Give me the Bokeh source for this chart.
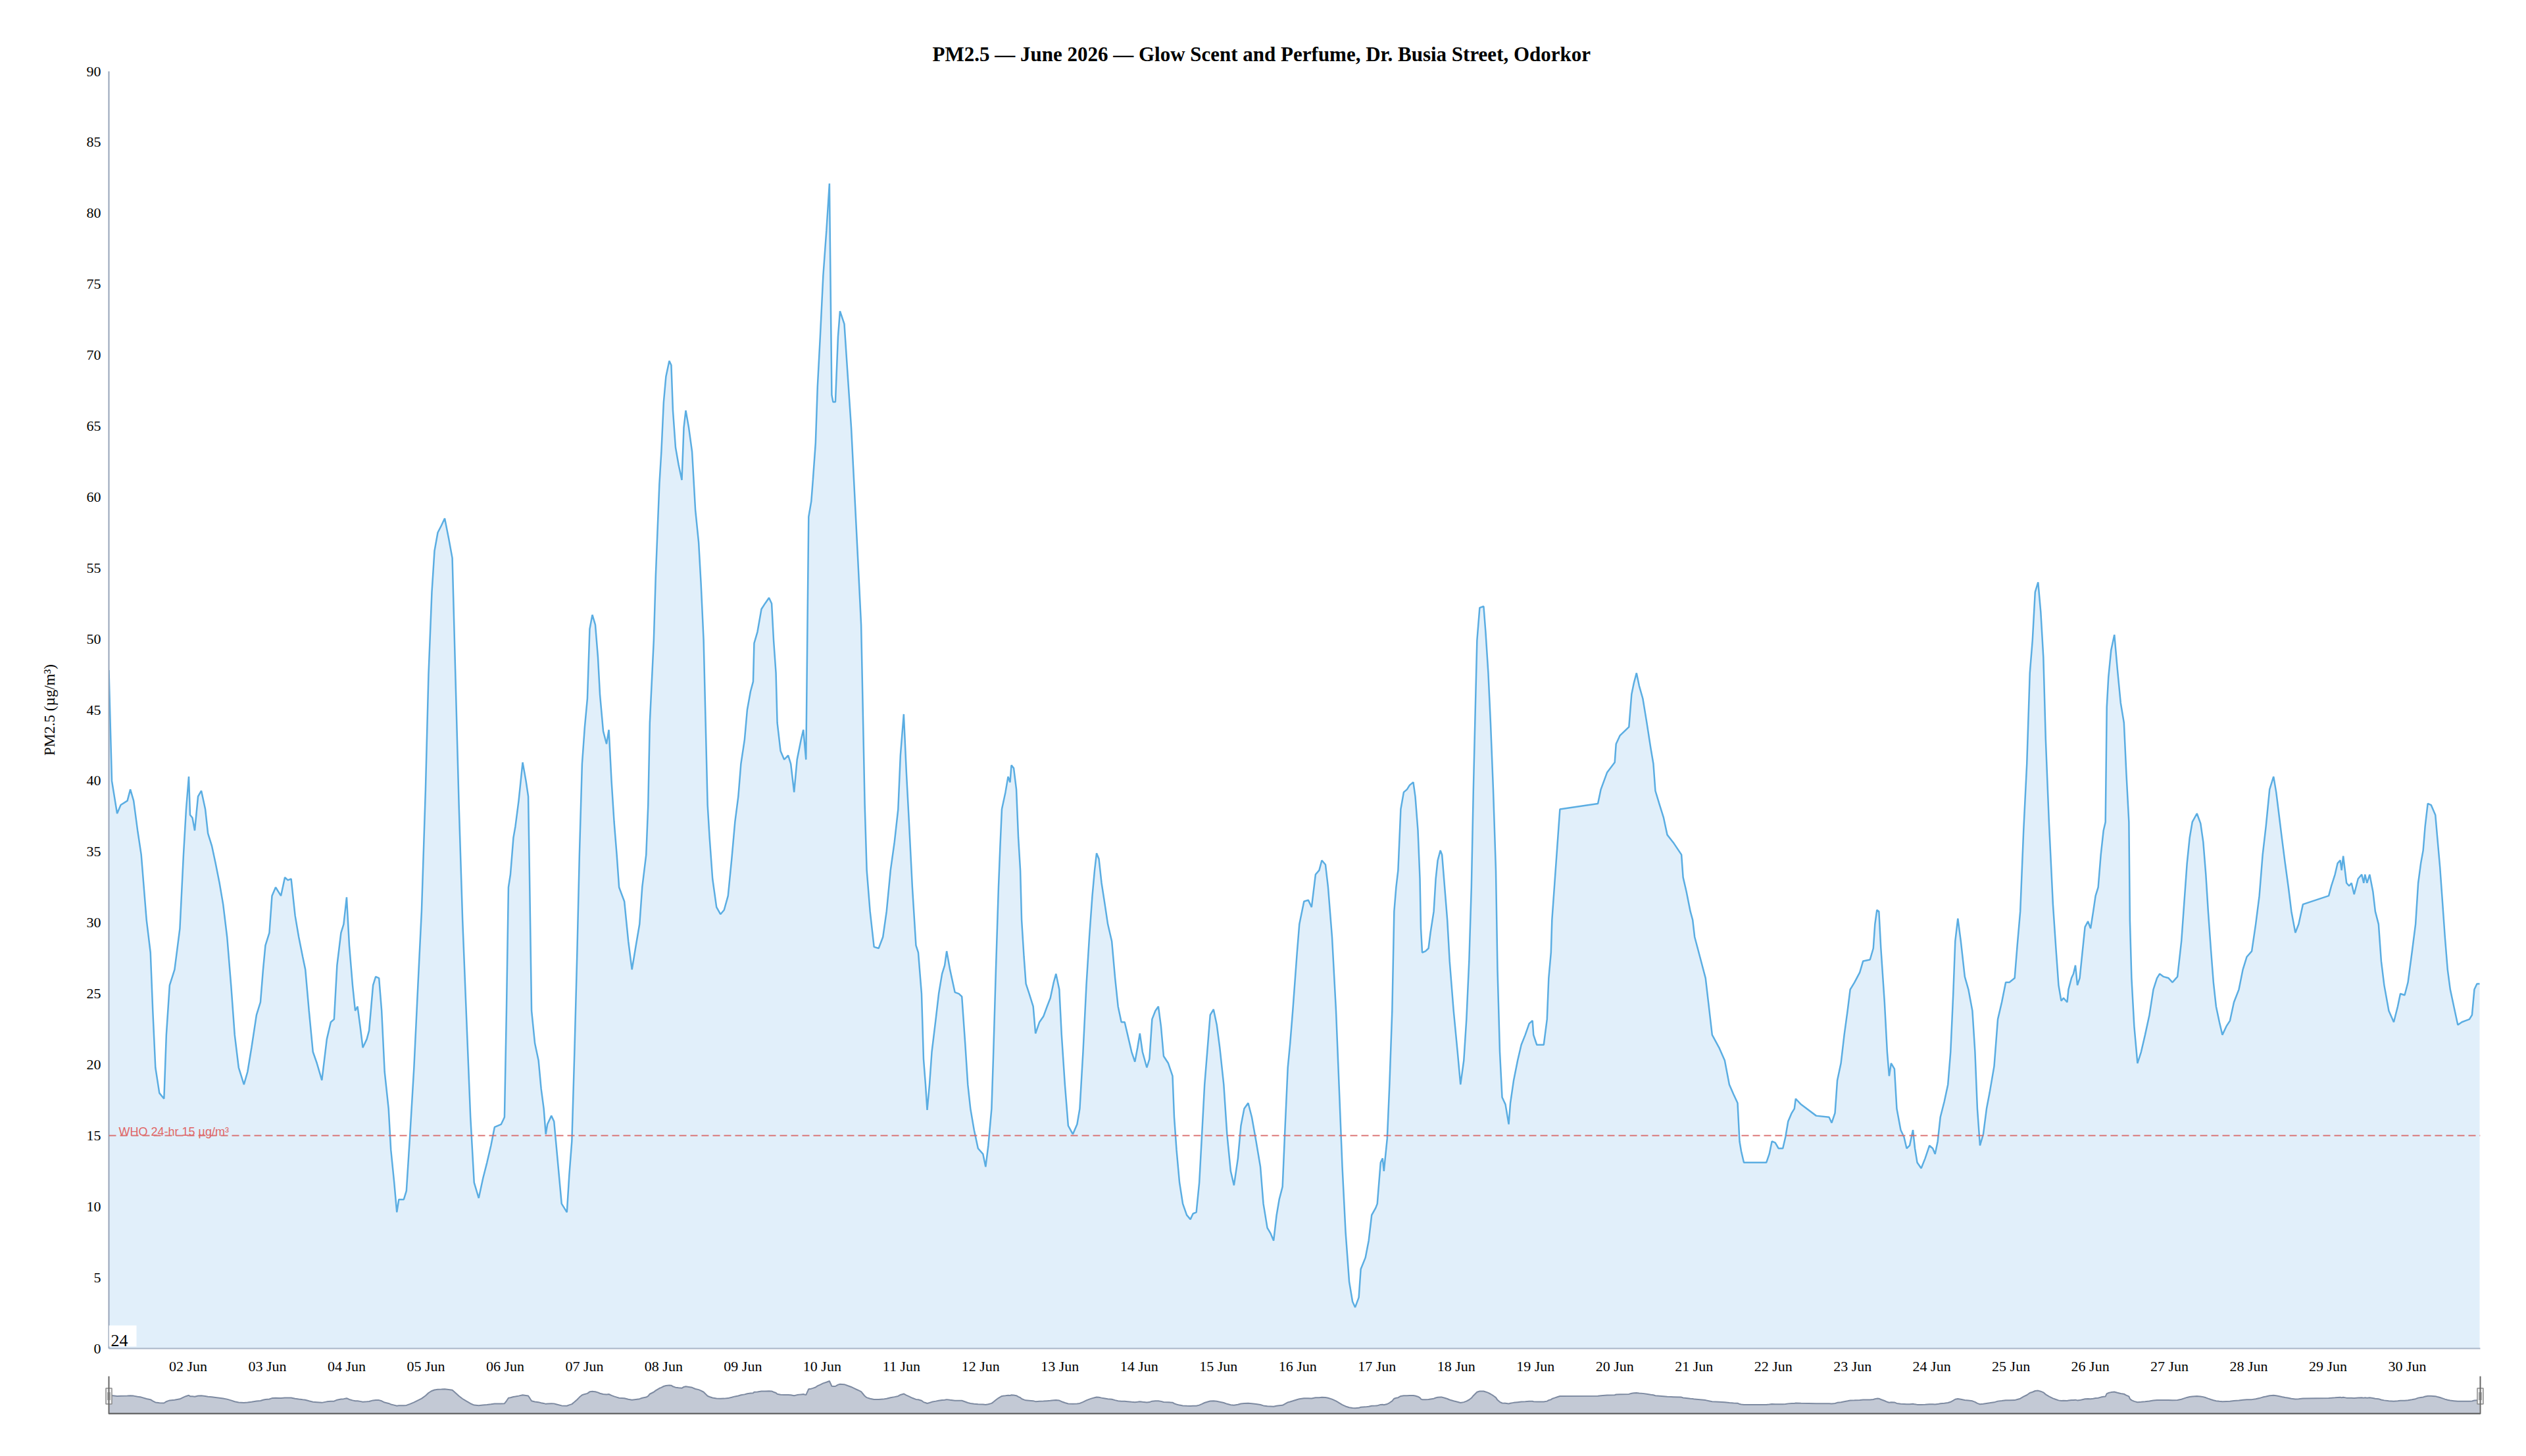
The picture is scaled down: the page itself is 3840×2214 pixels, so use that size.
import pandas as pd
from bokeh.plotting import figure
from bokeh.models import (ColumnDataSource, Range1d, FixedTicker, DatetimeTickFormatter,
                          Span, Label, BoxAnnotation)
from bokeh.embed import file_html
from bokeh.resources import INLINE

TITLE = "PM2.5 \u2014 June 2026 \u2014 Glow Scent and Perfume, Dr. Busia Street, Odorkor"
Y_LABEL = "PM2.5 (\u00b5g/m\u00b3)"
WHO_LIMIT = 15
WHO_TEXT = "WHO 24-hr 15 \u00b5g/m\u00b3"
CORNER_TEXT = "24"
START = "2026-06-01 00:00"
Y_TICKS = list(range(0, 95, 5))
TICK_DAYS = list(range(2, 31))

# (hours since 1 Jun 00:00, PM2.5)
SEG_01_05 = [(0, 47.8), (0.9, 40.0), (2.5, 37.7), (3.6, 38.3), (5.6, 38.6), (6.5, 39.4), (7.5, 38.6),
             (8.7, 36.5), (9.8, 34.8), (11.4, 30.2), (12.6, 27.9), (13.3, 23.8), (14.1, 19.8), (15.3, 18.0),
             (16.7, 17.6), (17.4, 22.1), (18.4, 25.6), (19.9, 26.7), (21.5, 29.6), (22.6, 34.8), (23.4, 38.0),
             (24.2, 40.3), (24.6, 37.6), (25.3, 37.4), (26.0, 36.5), (27.0, 38.9), (28.0, 39.3), (29.2, 38.0),
             (30.0, 36.3), (31.2, 35.4), (32.3, 34.2), (33.5, 32.8), (34.6, 31.3), (35.8, 29.0), (37.0, 25.6),
             (38.1, 22.1), (39.3, 19.8), (40.9, 18.6), (42.0, 19.5), (43.2, 21.2), (44.7, 23.5), (45.9, 24.4),
             (46.7, 26.7), (47.4, 28.4), (48.6, 29.3), (49.4, 31.9), (50.5, 32.5), (52.1, 31.9), (53.3, 33.2),
             (54.2, 33.0), (55.2, 33.1), (56.4, 30.5), (57.5, 29.0), (58.7, 27.6), (59.5, 26.7), (60.6, 23.8),
             (61.8, 20.9), (63.0, 20.1), (64.5, 18.9), (66.0, 21.8), (67.2, 23.0), (68.2, 23.2), (69.1, 27.0),
             (70.3, 29.3), (71.1, 29.9), (72.0, 31.8), (72.8, 28.4), (73.8, 25.6), (74.6, 23.8), (75.3, 24.1),
             (76.1, 22.7), (76.9, 21.2), (78.1, 21.8), (78.8, 22.4), (80.0, 25.6), (80.8, 26.2), (81.8, 26.1),
             (82.6, 23.8), (83.5, 19.5), (84.7, 16.9), (85.4, 14.0), (86.4, 11.7), (87.2, 9.6), (87.8, 10.5),
             (89.3, 10.5), (90.1, 11.1), (91.2, 15.1), (92.4, 19.8), (93.6, 25.6), (94.7, 30.8), (95.9, 39.4),
             (96.8, 47.5), (97.8, 53.3), (98.6, 56.2), (99.6, 57.5), (100.7, 58.0), (101.7, 58.5), (102.9, 57.1),
             (104.0, 55.7), (104.8, 48.7), (106.0, 38.3), (107.1, 30.2), (108.3, 23.2), (109.5, 16.3),
             (110.6, 11.7), (112.0, 10.6), (113.3, 12.0), (114.5, 13.1), (115.7, 14.3), (116.8, 15.6),
             (118.8, 15.8), (119.8, 16.3)]

SEG_06_10 = [(120.4, 23.8), (121.0, 32.5), (121.6, 33.4), (122.5, 36.0), (123.1, 36.8), (124.1, 38.6),
             (125.3, 41.3), (126.3, 40.0), (127.0, 38.9), (127.4, 33.1), (128.0, 23.8), (129.0, 21.5),
             (130.1, 20.3), (130.9, 18.3), (131.7, 16.9), (132.3, 15.1), (132.8, 15.8), (134.0, 16.4),
             (134.8, 16.0), (135.6, 14.0), (137.1, 10.2), (138.7, 9.6), (139.4, 12.2), (140.2, 14.6),
             (141.0, 20.9), (141.8, 27.9), (142.5, 34.8), (143.3, 41.2), (144.1, 43.8), (144.9, 45.8),
             (145.6, 50.7), (146.4, 51.7), (147.3, 51.0), (148.1, 48.7), (148.7, 46.1), (149.7, 43.5),
             (150.7, 42.6), (151.4, 43.6), (152.2, 40.0), (153.0, 37.1), (153.8, 34.8), (154.5, 32.5),
             (156.1, 31.5), (157.3, 28.7), (158.4, 26.7), (159.6, 28.4), (160.7, 29.9), (161.5, 32.5),
             (162.7, 34.8), (163.3, 38.3), (163.8, 44.1), (164.4, 47.0), (165.0, 49.9), (165.6, 54.5),
             (166.2, 58.0), (166.7, 60.9), (167.3, 63.2), (168.0, 66.7), (168.7, 68.5), (169.7, 69.6),
             (170.3, 69.3), (170.8, 66.1), (171.6, 63.5), (172.5, 62.3), (173.5, 61.2), (174.1, 64.9),
             (174.7, 66.1), (175.6, 64.9), (176.6, 63.2), (177.6, 59.1), (178.6, 56.8), (179.3, 53.9),
             (180.1, 49.9), (180.7, 44.1), (181.3, 38.3), (181.9, 36.0), (182.8, 33.1), (184.0, 31.1),
             (185.2, 30.6), (186.3, 30.9), (187.5, 31.9), (188.6, 34.5), (189.6, 37.1), (190.6, 38.9),
             (191.4, 41.2), (192.5, 42.9), (193.3, 45.0), (194.3, 46.3), (195.1, 47.0), (195.4, 49.7),
             (196.4, 50.5), (197.6, 52.1), (198.7, 52.5), (199.9, 52.9), (200.7, 52.5), (201.3, 49.9),
             (202.0, 47.6), (202.4, 44.1), (203.4, 42.1), (204.5, 41.5), (205.7, 41.8), (206.5, 41.2),
             (207.5, 39.2), (208.4, 41.5), (209.6, 42.9), (210.3, 43.6), (211.1, 41.5), (211.9, 58.6),
             (212.7, 59.7), (213.2, 61.2), (214.0, 63.8), (214.6, 67.8), (215.4, 71.3), (216.3, 75.6),
             (217.3, 78.8), (218.2, 82.1), (218.9, 67.2), (219.3, 66.7), (220.0, 66.7), (220.8, 71.3),
             (221.4, 73.1), (222.7, 72.2), (223.7, 68.7), (224.8, 64.9), (225.8, 60.3), (226.8, 55.7),
             (227.8, 51.0), (228.4, 44.1), (228.9, 38.3), (229.5, 33.7), (230.5, 30.8), (231.7, 28.3),
             (233.1, 28.2), (234.4, 29.0), (235.5, 30.8), (236.7, 33.7), (237.9, 35.7), (239.0, 38.0)]

SEG_11_15 = [(239.7, 41.8), (240.7, 44.7), (241.5, 40.6), (242.3, 37.1), (243.3, 32.5), (244.4, 28.4),
             (245.1, 27.9), (246.1, 25.0), (246.7, 20.4), (247.3, 18.6), (247.8, 16.8), (248.5, 18.6),
             (249.2, 20.9), (250.4, 23.2), (251.3, 25.0), (252.3, 26.4), (253.1, 27.0), (253.7, 28.0),
             (254.7, 26.7), (256.2, 25.1), (257.4, 25.0), (258.3, 24.8), (259.3, 21.5), (260.1, 18.6),
             (260.9, 16.9), (262.0, 15.4), (263.2, 14.1), (264.7, 13.7), (265.5, 12.8), (266.3, 14.3),
             (267.3, 16.9), (267.8, 20.4), (268.6, 26.7), (269.4, 32.5), (269.9, 35.4), (270.4, 38.0),
             (271.5, 39.2), (272.3, 40.3), (272.9, 39.9), (273.3, 41.1), (274.0, 40.9), (274.8, 39.4),
             (275.4, 36.0), (276.0, 33.7), (276.4, 30.2), (277.1, 27.6), (277.7, 25.7), (278.7, 25.0),
             (279.9, 24.1), (280.6, 22.2), (281.8, 23.0), (283.0, 23.4), (284.1, 24.1), (285.1, 24.7),
             (286.1, 25.8), (286.8, 26.4), (287.8, 25.3), (288.5, 22.1), (289.5, 18.6), (290.5, 15.7),
             (291.9, 15.1), (293.2, 15.8), (294.0, 16.9), (295.0, 20.9), (296.0, 25.6), (296.9, 29.0),
             (297.8, 31.9), (298.5, 33.7), (299.1, 34.9), (299.8, 34.5), (300.6, 32.8), (301.6, 31.3),
             (302.5, 29.9), (303.7, 28.7), (304.7, 26.1), (305.6, 24.1), (306.6, 23.0), (307.6, 23.0),
             (308.5, 22.1), (309.7, 20.9), (310.7, 20.2), (311.5, 21.2), (312.2, 22.2), (313.0, 20.9),
             (314.3, 19.8), (315.1, 20.4), (315.9, 23.2), (316.9, 23.8), (317.8, 24.1), (318.6, 22.7),
             (319.4, 20.6), (320.8, 20.1), (322.1, 19.2), (322.6, 16.3), (323.3, 14.0), (324.2, 11.7),
             (325.2, 10.2), (326.4, 9.4), (327.5, 9.1), (328.3, 9.5), (329.3, 9.6), (330.2, 11.7),
             (331.0, 15.1), (331.8, 18.6), (332.6, 20.9), (333.5, 23.5), (334.5, 23.9), (335.5, 22.8),
             (336.4, 21.2), (337.6, 18.6), (338.6, 15.1), (339.7, 12.5), (340.7, 11.5), (341.9, 13.4),
             (342.8, 15.7), (343.8, 16.9), (345.0, 17.3), (346.1, 16.3), (347.4, 14.6), (348.7, 12.8),
             (349.6, 10.2), (350.8, 8.5), (351.8, 8.1), (352.7, 7.6), (353.6, 9.4), (354.4, 10.5),
             (355.4, 11.4), (356.2, 15.7), (357.0, 19.8), (357.7, 21.5), (358.5, 23.8)]

SEG_16_20 = [(359.8, 27.9), (360.5, 29.9), (361.9, 31.5), (363.2, 31.6), (364.2, 31.1), (365.4, 33.4),
             (366.5, 33.7), (367.3, 34.4), (368.4, 34.1), (369.2, 32.5), (370.4, 29.0), (371.6, 23.8),
             (372.5, 18.6), (373.5, 12.8), (374.5, 8.2), (375.6, 4.7), (376.6, 3.3), (377.4, 2.9),
             (378.5, 3.6), (379.1, 5.6), (380.5, 6.4), (381.5, 7.6), (382.4, 9.4), (383.6, 9.9),
             (384.1, 10.2), (385.1, 13.1), (385.7, 13.4), (386.1, 12.5), (387.1, 14.8), (387.8, 18.6),
             (388.6, 23.8), (389.2, 30.8), (389.8, 32.5), (390.4, 33.7), (391.2, 38.0), (392.1, 39.2),
             (393.1, 39.4), (393.9, 39.7), (395.0, 39.9), (395.6, 38.9), (396.4, 36.5), (397.0, 33.1),
             (397.3, 29.6), (397.7, 27.9), (398.7, 28.0), (399.6, 28.2), (400.2, 29.3), (401.2, 30.8),
             (401.8, 33.1), (402.4, 34.4), (403.2, 35.1), (403.7, 34.8), (404.5, 32.5), (405.3, 30.2),
             (406.0, 27.3), (407.2, 23.8), (408.4, 20.9), (409.3, 18.6), (410.3, 20.3), (411.1, 23.2),
             (411.9, 27.3), (412.6, 32.5), (413.2, 39.4), (413.8, 45.2), (414.3, 49.9), (415.1, 52.2),
             (416.3, 52.3), (416.9, 50.5), (417.7, 47.6), (418.4, 44.1), (419.2, 39.4), (420.0, 33.7),
             (420.5, 26.7), (421.2, 20.9), (421.9, 17.7), (422.9, 17.2), (423.9, 15.8), (424.4, 17.3),
             (425.4, 18.9), (426.6, 20.3), (427.7, 21.4), (428.9, 22.1), (430.1, 22.9), (431.1, 23.1),
             (431.4, 22.1), (432.4, 21.4), (433.4, 21.4), (434.5, 21.4), (435.5, 23.2), (436.0, 26.1),
             (436.7, 27.9), (437.0, 30.2), (437.8, 32.8), (438.6, 35.4), (439.4, 38.0), (450.9, 38.4),
             (451.8, 39.4), (453.7, 40.6), (456.0, 41.3), (456.4, 42.6), (457.6, 43.2), (460.3, 43.8),
             (461.1, 46.1), (461.8, 46.9), (462.6, 47.6), (463.4, 46.7), (464.5, 45.8), (465.7, 44.1),
             (466.9, 42.3), (467.7, 41.2), (468.3, 39.3), (469.6, 38.3), (470.8, 37.4), (471.9, 36.2),
             (473.9, 35.6), (476.2, 34.8), (476.7, 33.2), (477.7, 32.2), (478.9, 30.8)]

SEG_21_25 = [(479.6, 30.2), (480.2, 29.0), (481.8, 27.6), (483.5, 26.1), (484.5, 24.1), (485.5, 22.1),
             (487.6, 21.2), (489.3, 20.3), (490.7, 18.6), (492.0, 17.9), (493.2, 17.3), (493.8, 14.6),
             (494.3, 13.9), (495.1, 13.1), (501.9, 13.1), (502.8, 13.7), (503.6, 14.6), (504.6, 14.5),
             (505.6, 14.1), (506.9, 14.1), (507.7, 14.9), (508.5, 16.0), (509.6, 16.6), (510.4, 16.9),
             (510.8, 17.6), (512.4, 17.2), (517.0, 16.4), (520.9, 16.3), (521.7, 15.9), (522.7, 16.6),
             (523.4, 18.9), (524.5, 20.1), (525.5, 22.1), (526.5, 23.8), (527.3, 25.3), (528.6, 25.8),
             (530.2, 26.5), (531.2, 27.3), (533.3, 27.4), (534.3, 28.2), (534.8, 29.9), (535.4, 30.9),
             (536.0, 30.8), (536.6, 28.2), (537.7, 24.4), (538.5, 20.9), (539.1, 19.2), (539.7, 20.1),
             (540.7, 19.7), (541.4, 16.9), (542.6, 15.4), (543.6, 14.9), (544.4, 14.1), (545.3, 14.3),
             (546.3, 15.4), (546.9, 14.1), (547.6, 13.1), (548.8, 12.7), (550.0, 13.4), (551.3, 14.3),
             (552.3, 14.1), (553.0, 13.7), (553.8, 14.6), (554.6, 16.3), (555.8, 17.4), (556.9, 18.6),
             (557.7, 20.9), (558.5, 25.0), (559.1, 28.7), (559.9, 30.3), (560.8, 28.7), (562.0, 26.2),
             (563.1, 25.3), (564.3, 23.8), (565.1, 20.9), (565.8, 16.9), (566.6, 14.3), (567.6, 15.1),
             (568.6, 16.9), (569.5, 18.0), (570.9, 19.9), (572.0, 23.2), (573.2, 24.4), (574.4, 25.8),
             (575.5, 25.8), (577.1, 26.1), (577.9, 28.4), (578.8, 30.8), (579.8, 36.5), (580.8, 41.2),
             (581.7, 47.6), (582.5, 49.9), (583.3, 53.3), (584.2, 54.0), (585.0, 51.9), (585.8, 48.7),
             (586.5, 42.9), (587.5, 37.1), (588.1, 34.2), (588.7, 31.3), (589.6, 28.2), (590.4, 25.6),
             (591.2, 24.5), (591.9, 24.7), (593.0, 24.4), (593.4, 25.3), (594.3, 26.1), (594.9, 26.4),
             (595.5, 27.0), (596.1, 25.6), (596.8, 26.1), (597.6, 27.9), (598.4, 29.7)]

SEG_26_30 = [(599.3, 30.1), (600.1, 29.6), (600.9, 30.8), (601.6, 31.9), (602.4, 32.5), (603.2, 34.8),
             (604.0, 36.5), (604.6, 37.1), (605.0, 45.2), (605.5, 47.3), (606.3, 49.2), (607.3, 50.3),
             (608.2, 47.9), (609.2, 45.5), (610.2, 44.1), (610.9, 40.6), (611.7, 37.1), (612.0, 30.2),
             (612.5, 26.1), (613.3, 22.7), (614.3, 20.1), (615.4, 20.9), (616.6, 22.1), (617.9, 23.5),
             (619.1, 25.3), (620.2, 26.1), (621.0, 26.4), (622.2, 26.2), (623.7, 26.1), (624.9, 25.8),
             (626.4, 26.2), (627.6, 28.7), (628.4, 31.3), (629.3, 34.2), (630.1, 36.0), (630.9, 37.1),
             (632.3, 37.7), (633.4, 37.0), (634.2, 35.7), (635.0, 33.4), (635.7, 30.8), (636.5, 28.2),
             (637.3, 25.8), (638.1, 24.1), (639.1, 23.0), (640.0, 22.1), (641.2, 22.7), (642.3, 23.1),
             (643.5, 24.4), (645.0, 25.3), (646.2, 26.7), (647.4, 27.6), (648.9, 28.0), (650.1, 29.9),
             (651.2, 31.9), (652.2, 34.8), (653.2, 36.8), (654.3, 39.4), (655.5, 40.3), (656.3, 39.2),
             (657.1, 37.7), (658.0, 36.0), (659.0, 34.2), (660.0, 32.5), (660.9, 30.8), (662.1, 29.3),
             (663.1, 29.9), (664.4, 31.3), (672.2, 31.9), (673.0, 32.6), (674.1, 33.4), (674.9, 34.2),
             (675.7, 34.4), (676.1, 33.7), (676.6, 34.7), (677.6, 32.8), (678.4, 32.6), (679.1, 32.8),
             (679.9, 32.0), (681.1, 33.1), (682.2, 33.4), (682.8, 32.8), (683.2, 33.4), (683.8, 32.8),
             (684.6, 33.4), (685.6, 32.2), (686.3, 30.8), (687.3, 29.9), (688.1, 27.3), (689.0, 25.6),
             (690.4, 23.8), (691.9, 23.0), (693.1, 24.1), (693.9, 25.0), (695.2, 24.9), (696.2, 25.8),
             (697.4, 27.9), (698.5, 29.9), (699.3, 32.8), (700.1, 34.2), (700.8, 35.1), (701.4, 36.8),
             (702.2, 38.4), (703.2, 38.3), (704.5, 37.6), (705.1, 36.0), (705.9, 33.9), (706.7, 31.3),
             (707.4, 29.0), (708.2, 26.7), (709.0, 25.3), (710.1, 24.1), (711.3, 22.8), (712.5, 23.0),
             (713.6, 23.1), (714.8, 23.2), (715.6, 23.5), (716.3, 25.3), (717.1, 25.7), (717.9, 25.7)]

readings = SEG_01_05 + SEG_06_10 + SEG_11_15 + SEG_16_20 + SEG_21_25 + SEG_26_30
hours = [h for h, _ in readings]
pm25 = [v for _, v in readings]

t0 = pd.Timestamp(START)
def ms(h):
    return (t0 + pd.Timedelta(hours=h)).timestamp() * 1000.0

times = t0 + pd.to_timedelta(hours, unit="h")
src = ColumnDataSource(data=dict(t=times, v=pm25))

# ---------------- layout constants (pixels) ----------------
W = 3824
FRAME_L, FRAME_R = 165, 54
FRAME_W = W - FRAME_L - FRAME_R
MAIN_TOP, MAIN_BOTTOM = 108, 39
MAIN_H = 2092
FRAME_H = MAIN_H - MAIN_TOP - MAIN_BOTTOM
X_END_H = 718.1
px_per_h = FRAME_W / X_END_H
Y_MAX = 90
px_per_unit = FRAME_H / Y_MAX

SERIF = "Liberation Serif"
SANS = "Liberation Sans"

p = figure(width=W, height=MAIN_H, x_axis_type="datetime",
           x_range=Range1d(ms(0), ms(X_END_H)), y_range=Range1d(0, Y_MAX),
           output_backend="svg", toolbar_location=None,
           min_border_left=FRAME_L, min_border_right=FRAME_R,
           min_border_top=MAIN_TOP, min_border_bottom=MAIN_BOTTOM,
           title=TITLE)
p.outline_line_color = None
p.grid.visible = False
p.background_fill_color = "white"
p.border_fill_color = "white"

p.title.align = "left"
p.title.offset = 1252
p.title.text_font = SERIF
p.title.text_font_size = "31px"
p.title.text_font_style = "bold"
p.title.text_color = "#000000"
p.title.standoff = 18

p.varea(x="t", y1=0, y2="v", source=src, fill_color="#e1effa", fill_alpha=1.0)
p.line(x="t", y="v", source=src, line_color="#5aade2", line_width=2.5)

p.add_layout(Span(location=WHO_LIMIT, dimension="width", line_color="#d96a6a",
                  line_dash="11 6", line_width=2, line_alpha=0.9))
p.add_layout(Label(x=ms(0), y=WHO_LIMIT, x_offset=15, y_offset=6, text=WHO_TEXT,
                   text_font=SANS, text_font_size="18px", text_color="#e06666",
                   text_baseline="alphabetic", text_align="left"))

p.add_layout(BoxAnnotation(left=ms(0), right=ms(42 / px_per_h),
                           bottom=3 / px_per_unit, top=35 / px_per_unit,
                           fill_color="white", fill_alpha=1.0, line_color=None))
p.add_layout(Label(x=ms(0), y=0, x_offset=3, y_offset=12, text=CORNER_TEXT,
                   text_font=SERIF, text_font_size="26px", text_color="#000000",
                   text_baseline="alphabetic"))

xa = p.xaxis[0]
xa.ticker = FixedTicker(ticks=[ms(24 * (d - 1)) for d in TICK_DAYS])
fmt = "%d %b"
xa.formatter = DatetimeTickFormatter(milliseconds=fmt, seconds=fmt, minsec=fmt, minutes=fmt,
                                     hourmin=fmt, hours=fmt, days=fmt, months=fmt, years=fmt)
xa.major_tick_line_color = None
xa.minor_tick_line_color = None
xa.axis_line_color = "#a9b5c7"
xa.axis_line_width = 2
xa.major_label_text_font = SERIF
xa.major_label_text_font_size = "22px"
xa.major_label_text_color = "#000000"
xa.major_label_standoff = 8

ya = p.yaxis[0]
ya.ticker = FixedTicker(ticks=Y_TICKS)
ya.major_tick_line_color = None
ya.minor_tick_line_color = None
ya.axis_line_color = "#96a3b8"
ya.axis_line_width = 2
ya.major_label_text_font = SERIF
ya.major_label_text_font_size = "22px"
ya.major_label_text_color = "#000000"
ya.major_label_standoff = 6
ya.axis_label = Y_LABEL
ya.axis_label_text_font = SERIF
ya.axis_label_text_font_size = "23px"
ya.axis_label_text_font_style = "normal"
ya.axis_label_text_color = "#000000"
ya.axis_label_standoff = 41

# ---------------- navigator ----------------
NAV_H = 70
NAV_BOTTOM_BORDER = 12
PAD = 15
pad_h = PAD / px_per_h
NAV_LO, NAV_HI = -15, 96.5

p2 = figure(width=W, height=NAV_H, x_axis_type="datetime",
            x_range=Range1d(ms(-pad_h), ms(X_END_H + pad_h)), y_range=Range1d(NAV_LO, NAV_HI),
            x_axis_location=None, y_axis_location=None,
            output_backend="svg", toolbar_location=None,
            min_border_left=FRAME_L - PAD, min_border_right=FRAME_R - PAD,
            min_border_top=0, min_border_bottom=NAV_BOTTOM_BORDER)
p2.outline_line_color = None
p2.grid.visible = False

p2.varea(x="t", y1=NAV_LO, y2="v", source=src, fill_color="#c3c9d5", fill_alpha=1.0)
p2.line(x="t", y="v", source=src, line_color="#7d8aa1", line_width=2)

x_lo, x_hi = ms(0), ms(X_END_H)
p2.segment(x0=[x_lo], x1=[x_hi], y0=[NAV_LO + 1], y1=[NAV_LO + 1], line_color="#555555", line_width=3)
for xv in (x_lo, x_hi):
    p2.add_layout(Span(location=xv, dimension="height", line_color="#666666", line_width=2))
hy = (NAV_HI + NAV_LO) / 2 - 3
p2.rect(x=[x_lo, x_hi], y=[hy, hy], width=9, height=24, width_units="screen", height_units="screen",
        fill_color="#f2f2f2", line_color="#8a8a8a", line_width=1.5)
off = 1.6 / px_per_h * 3600000
p2.scatter(x=[x_lo - off, x_lo + off, x_hi - off, x_hi + off], y=[hy] * 4, marker="dash",
           angle=1.5708, size=12, line_color="#777777", line_width=1)

# two independent roots stacked on the page (keeps each figure's own frame)
open("out.html", "w").write(file_html([p, p2], INLINE))
